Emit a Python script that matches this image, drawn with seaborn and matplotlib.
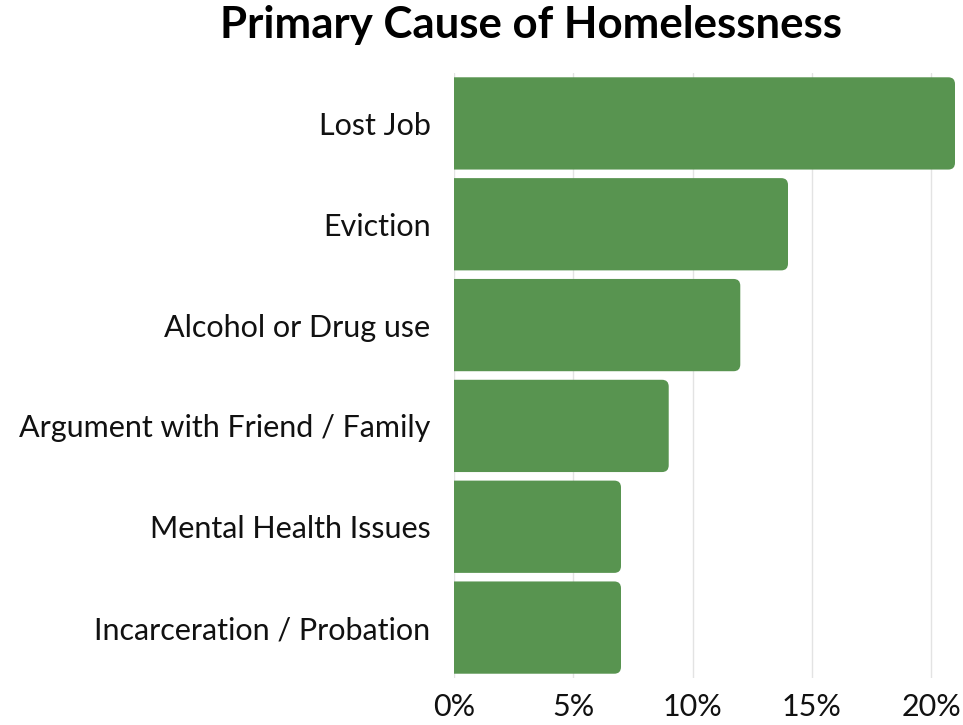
import matplotlib
matplotlib.use("Agg")
import matplotlib.pyplot as plt
from matplotlib.patches import FancyBboxPatch
from matplotlib.ticker import FuncFormatter
import seaborn as sns
import pandas as pd

causes = [
    "Lost Job",
    "Eviction",
    "Alcohol or Drug use",
    "Argument with Friend / Family",
    "Mental Health Issues",
    "Incarceration / Probation",
]
shares = [21, 14, 12, 9, 7, 7]
x_ticks = [0, 5, 10, 15, 20]

df = pd.DataFrame({"cause": causes, "share": shares})

sns.set_theme(style="white")
plt.rcParams["font.family"] = ["Lato", "DejaVu Sans"]

BAR_GREEN = "#589450"

fig = plt.figure(figsize=(9.63, 7.25), dpi=100)
ax = fig.add_axes([454 / 963, 1 - 678 / 725, 501 / 963, (678 - 73) / 725])

sns.barplot(data=df, x="share", y="cause", orient="h", color=BAR_GREEN,
            width=0.915, saturation=1, ax=ax, zorder=2)

# swap the plain rectangles for bars with rounded right-hand corners
bars = list(ax.patches)
for p in bars:
    x0, y0 = p.get_x(), p.get_y()
    w, h = p.get_width(), p.get_height()
    p.set_visible(False)
    rounded = FancyBboxPatch(
        (x0 - 1.0, y0), w + 1.0, h,
        boxstyle="round,pad=0,rounding_size=0.28",
        mutation_aspect=0.24,
        facecolor=BAR_GREEN, edgecolor="none", zorder=2,
    )
    ax.add_patch(rounded)

ax.set_xlim(0, 21)
ax.set_ylim(5.5, -0.5)
ax.set_xticks(x_ticks)
ax.xaxis.set_major_formatter(FuncFormatter(lambda v, _: f"{v:.0f}%"))
ax.grid(axis="x", color="#e3e3e3", linewidth=1.0, zorder=0)
ax.grid(axis="y", visible=False)
ax.set_xlabel("")
ax.set_ylabel("")
for s in ax.spines.values():
    s.set_visible(False)
ax.tick_params(axis="y", length=0, pad=17, labelsize=22, labelcolor="#111111")
ax.tick_params(axis="x", length=0, pad=11, labelsize=22, labelcolor="#111111")

fig.text(531 / 963, 1 - 38 / 725, "Primary Cause of Homelessness",
         ha="center", va="baseline", fontsize=31.5, fontweight="bold",
         color="#000000")

fig.savefig("out.png", dpi=100)
